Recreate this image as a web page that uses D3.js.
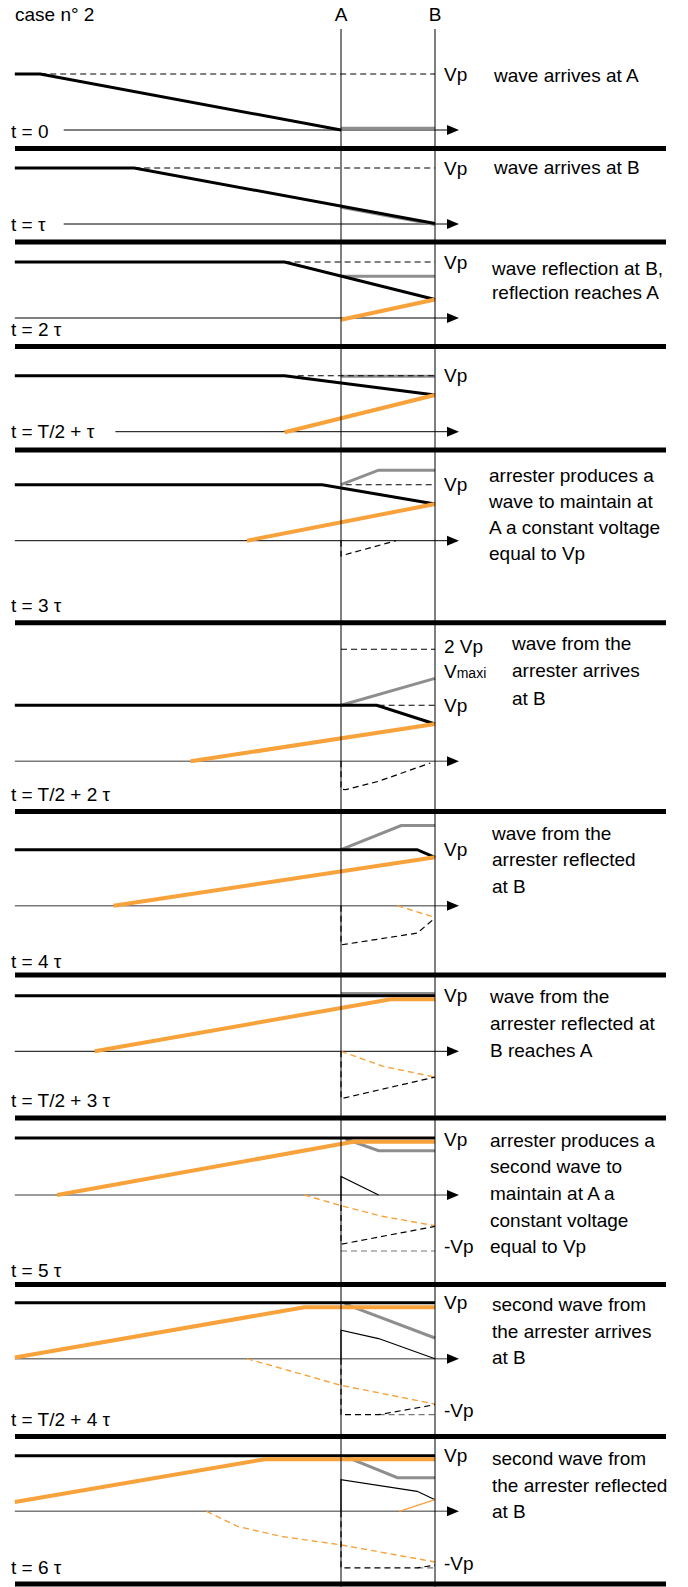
<!DOCTYPE html>
<html>
<head>
<meta charset="utf-8">
<script src="https://cdn.jsdelivr.net/npm/d3@7"></script>
<style>
body { margin: 0; background: #fff; }
text { font-family: "Liberation Sans", Arial, sans-serif; font-size: 19px; fill: #000; }
</style>
</head>
<body>
<script>
// voltages in units of Vp, positions along the line in units of the A-B length (A = 0, B = 1)

var timeLabels = ['t = 0', 't = \u03c4', 't = 2 \u03c4', 't = T/2 + \u03c4', 't = 3 \u03c4', 't = T/2 + 2 \u03c4',
	't = 4 \u03c4', 't = T/2 + 3 \u03c4', 't = 5 \u03c4', 't = T/2 + 4 \u03c4', 't = 6 \u03c4'];

var captions = [
	['wave arrives at A'],
	['wave arrives at B'],
	['wave reflection at B,', 'reflection reaches A'],
	[],
	['arrester produces a', 'wave to maintain at', 'A a constant voltage', 'equal to Vp'],
	['wave from the', 'arrester arrives', 'at B'],
	['wave from the', 'arrester reflected', 'at B'],
	['wave from the', 'arrester reflected at', 'B reaches A'],
	['arrester produces a', 'second wave to', 'maintain at A a', 'constant voltage', 'equal to Vp'],
	['second wave from', 'the arrester arrives', 'at B'],
	['second wave from', 'the arrester reflected', 'at B']
];

// labels right of B : [voltage, text]
var levelLabels = [
	[[1, 'Vp']], [[1, 'Vp']], [[1, 'Vp']], [[1, 'Vp']], [[1, 'Vp']],
	[[2.05, '2 Vp'], [1.61, 'Vmaxi'], [1, 'Vp']],
	[[1, 'Vp']], [[1, 'Vp']],
	[[1, 'Vp'], [-0.92, '-Vp']], [[1, 'Vp'], [-0.92, '-Vp']], [[1, 'Vp'], [-0.93, '-Vp']]
];

// incident wave (thick black)
var incident = [
	[[-3.47, 1], [-3.2, 1], [0, 0]],
	[[-3.47, 1], [-2.2, 1], [1, 0.01]],
	[[-3.47, 1], [-0.6, 1], [1, 0.33]],
	[[-3.47, 1], [-0.6, 1], [1, 0.655]],
	[[-3.47, 1], [-0.2, 1], [1, 0.655]],
	[[-3.47, 1], [0.38, 1], [1, 0.666]],
	[[-3.47, 1], [0.81, 1], [1, 0.864]],
	[[-3.47, 0.99], [1, 0.99]],
	[[-3.47, 1.02], [1, 1.02]],
	[[-3.47, 1], [1, 1]],
	[[-3.47, 0.99], [1, 0.99]]
];

// resulting voltage between A and B (grey)
var lineVoltage = [
	[[0, 0.03], [1, 0.03]],
	[[0, 0.3], [1, -0.01]],
	[[0, 0.745], [1, 0.745]],
	[[0, 0.99], [1, 0.99]],
	[[0, 1], [0.4, 1.26], [1, 1.26]],
	[[0, 1], [1, 1.48]],
	[[0, 1], [0.64, 1.43], [1, 1.43]],
	[[0, 1.03], [1, 1.03]],
	[[0.05, 1], [0.4, 0.79], [1, 0.79]],
	[[0.04, 0.98], [1, 0.37]],
	[[0.04, 0.98], [0.6, 0.6], [1, 0.6]]
];

// wave reflected at B (thick orange)
var reflected = [
	null, null,
	[[0, -0.03], [1, 0.33]],
	[[-0.6, -0.01], [1, 0.655]],
	[[-1.0, 0], [1, 0.655]],
	[[-1.6, 0], [1, 0.666]],
	[[-2.42, 0], [1, 0.864]],
	[[-2.62, 0], [0.53, 0.93], [1, 0.93]],
	[[-3.02, 0], [0.13, 0.95], [1, 0.95]],
	[[-3.47, 0.02], [-0.39, 0.92], [1, 0.92]],
	[[-3.47, 0.166], [-0.81, 0.93], [1, 0.93]]
];

// second arrester wave (thin black)
var arresterWave = [null, null, null, null, null, null, null, null,
	[[0, 0], [0, 0.33], [0.4, 0]],
	[[0, 0], [0, 0.51], [0.4, 0.36], [1, 0]],
	[[0, 0], [0, 0.564], [0.81, 0.357], [1, 0.207]]
];

// second arrester wave reflected at B (thin orange)
var arresterReflected = [null, null, null, null, null, null, null, null, null, null,
	[[0.62, 0], [1, 0.207]]
];

// negative wave from the arrester (dashed black)
var arresterNeg = [null, null, null, null,
	[[0, 0], [0, -0.27], [0.585, 0]],
	[[0, 0], [0, -0.5], [0.05, -0.507], [0.4, -0.357], [0.95, -0.03]],
	[[0, 0], [0, -0.7], [0.81, -0.49], [1, -0.22]],
	[[0, 0], [0, -0.846], [1, -0.46]],
	[[0, 0], [0, -0.88], [1, -0.56]],
	[[0, 0], [0, -1.0], [0.4, -1.0], [1, -0.82]],
	[[0, 0], [0, -1.01], [0.81, -1.01], [1, -0.96]]
];

// negative wave reflected at B (dashed orange)
var negReflected = [null, null, null, null, null, null,
	[[0.6, 0], [1, -0.21]],
	[[0, 0], [0.45, -0.27], [1, -0.46]],
	[[-0.39, 0], [0, -0.19], [0.44, -0.38], [1, -0.55]],
	[[-1.0, 0], [0, -0.475], [1, -0.81]],
	[[-1.43, 0], [-1.1, -0.27], [-0.63, -0.45], [0, -0.6], [1, -0.905]]
];

// reference levels : [from, to, voltage]
var vpRefs = [
	[[-3.2, 1, 1]], [[-2.2, 1, 1]], [[-0.6, 1, 1]], [[-0.46, 1, 1]], [[0.05, 1, 1]],
	[[0, 1, 2], [0.4, 1, 1]],
	[], [], [], [], []
];
var negRefs = [[], [], [], [], [], [], [], [],
	[[0, 1, -1]], [[0.4, 1, -1]], [[0.81, 1, -1.01]]
];

// layout
var W = 688, H = 1587;
var vpPx = 56;
var panelAxisY = [130, 224, 318, 431.7, 540.7, 761.3, 905.7, 1051.3, 1195, 1358.7, 1511.3];
var separatorY = [148.5, 242, 346.5, 450, 622.7, 811.5, 975, 1118, 1284.5, 1436.5, 1584];
var timeLabelY = [131, 224, 329, 431, 605, 794.7, 961.3, 1100.3, 1270, 1419.7, 1567];
var captionY = [75, 167.7, 268, 0, 475, 643, 833, 996, 1140, 1304.7, 1458.7];
var captionX = [494, 494, 492, 0, 489, 512, 492, 490, 490, 492, 492];
var captionStep = [26.6, 26.6, 24, 26.6, 26, 27.5, 26.6, 27, 26.7, 26.6, 26.6];
var axisStart = [-2.95, -2.95, -3.47, -2.4, -3.47, -3.47, -3.47, -3.47, -3.47, -3.47, -3.47];
var greyAxis = [false, false, false, false, false, true, true, false, true, true, true];

var orange = '#f8a23c', grey = '#8e8e8e';

var svg = d3.select('body').append('svg')
	.attr('width', W)
	.attr('height', H);

var x = d3.scaleLinear().domain([0, 1]).range([341, 435]);
var tip = 1.255;

svg.append('text').attr('x', 15).attr('y', 21).text('case n\u00b0 2');
svg.append('text').attr('x', x(0)).attr('y', 21).attr('text-anchor', 'middle').text('A');
svg.append('text').attr('x', x(1)).attr('y', 21).attr('text-anchor', 'middle').text('B');

svg.selectAll('line.sep')
	.data(separatorY)
	.enter()
	.append('line')
	.attr('class', 'sep')
	.attr('x1', 15)
	.attr('x2', 666)
	.attr('y1', function(d) { return d; })
	.attr('y2', function(d) { return d; })
	.attr('stroke', '#000')
	.attr('stroke-width', 5);

function drawPath(g, pts, color, width, dash) {
	if (!pts) { return; }
	var p = g.append('path')
		.attr('d', line(pts))
		.attr('fill', 'none')
		.attr('stroke', color)
		.attr('stroke-width', width)
		.attr('stroke-linejoin', 'miter');
	if (dash) { p.attr('stroke-dasharray', dash); }
}

var line;

timeLabels.forEach(function(label, i) {
	var y = d3.scaleLinear().domain([0, 1]).range([panelAxisY[i], panelAxisY[i] - vpPx]);
	line = d3.line()
		.x(function(d) { return x(d[0]); })
		.y(function(d) { return y(d[1]); });

	var g = svg.append('g');

	// time axis with arrow
	g.append('line')
		.attr('x1', x(axisStart[i]))
		.attr('x2', x(tip) - 10)
		.attr('y1', y(0))
		.attr('y2', y(0))
		.attr('stroke', greyAxis[i] ? '#7a7a7a' : '#000')
		.attr('stroke-width', greyAxis[i] ? 1.6 : 1);
	g.append('path')
		.attr('d', 'M' + x(tip) + ',' + y(0) + 'L' + (x(tip) - 12) + ',' + (y(0) - 5) +
			'L' + (x(tip) - 12) + ',' + (y(0) + 5) + 'Z')
		.attr('fill', '#000');

	g.append('text')
		.attr('x', 11)
		.attr('y', timeLabelY[i])
		.attr('dominant-baseline', 'central')
		.text(label);

	drawPath(g, lineVoltage[i], grey, 3);

	vpRefs[i].forEach(function(r) {
		drawPath(g, [[r[0], r[2]], [r[1], r[2]]], '#000', 1.1, '6,4');
	});
	negRefs[i].forEach(function(r) {
		drawPath(g, [[r[0], r[2]], [r[1], r[2]]], '#777', 1.2, '6,4');
	});

	drawPath(g, incident[i], '#000', 3);
	drawPath(g, reflected[i], orange, 4);
	drawPath(g, arresterWave[i], '#000', 1.2);
	drawPath(g, arresterReflected[i], orange, 1.4);
	drawPath(g, negReflected[i], orange, 1.4, '6,4');
	drawPath(g, arresterNeg[i], '#000', 1.2, '6,4');

	levelLabels[i].forEach(function(l) {
		var t = g.append('text')
			.attr('x', 444)
			.attr('y', y(l[0]))
			.attr('dominant-baseline', 'central');
		if (l[1] === 'Vmaxi') {
			t.append('tspan').text('V');
			t.append('tspan').attr('font-size', 14).attr('dy', 2).text('maxi');
		} else {
			t.text(l[1]);
		}
	});

	captions[i].forEach(function(c, k) {
		g.append('text')
			.attr('x', captionX[i])
			.attr('y', captionY[i] + k * captionStep[i])
			.attr('dominant-baseline', 'central')
			.text(c);
	});
});

// A and B
svg.selectAll('line.ab')
	.data([0, 1])
	.enter()
	.append('line')
	.attr('class', 'ab')
	.attr('x1', function(d) { return x(d); })
	.attr('x2', function(d) { return x(d); })
	.attr('y1', 29)
	.attr('y2', H)
	.attr('stroke', '#000')
	.attr('stroke-width', 1);
</script>
</body>
</html>
